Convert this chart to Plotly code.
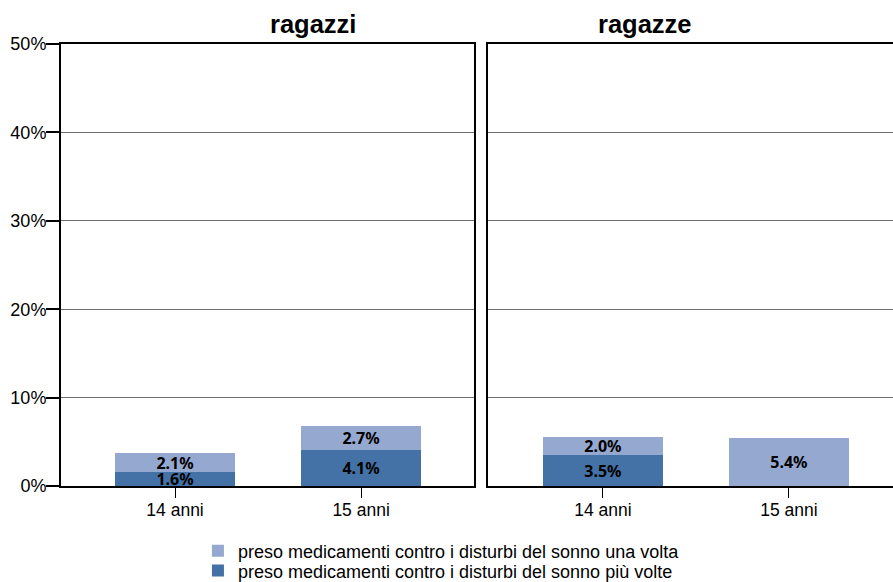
import plotly.graph_objects as go

categories = ["14 anni", "15 anni"]
panels = ["ragazzi", "ragazze"]
una_volta = {"ragazzi": [2.1, 2.7], "ragazze": [2.0, 5.4]}
piu_volte = {"ragazzi": [1.6, 4.1], "ragazze": [3.5, 0.0]}
y_ticks = [0, 10, 20, 30, 40, 50]
y_tick_labels = ["0%", "10%", "20%", "30%", "40%", "50%"]

name_una = "preso medicamenti contro i disturbi del sonno una volta"
name_piu = "preso medicamenti contro i disturbi del sonno più volte"
c_light = "#95A9D0"
c_dark = "#4472A6"

fig = go.Figure()
lab_font = dict(family="Noto Sans", size=16, color="black")

def fmt(vals):
    return [f"<b>{v:.1f}%</b>" if v > 0 else "" for v in vals]

for i, p in enumerate(panels):
    xa = "x" if i == 0 else "x2"
    ya = "y" if i == 0 else "y2"
    fig.add_trace(go.Bar(x=categories, y=piu_volte[p], name=name_piu, marker_color=c_dark,
                         marker_line_width=0, width=0.645, text=fmt(piu_volte[p]),
                         textposition="inside", insidetextanchor="middle", textfont=lab_font,
                         textangle=0, constraintext="none", cliponaxis=False,
                         xaxis=xa, yaxis=ya, showlegend=(i == 0), legend="legend2"))
    fig.add_trace(go.Bar(x=categories, y=una_volta[p], name=name_una, marker_color=c_light,
                         marker_line_width=0, width=0.645, text=fmt(una_volta[p]),
                         textposition="inside", insidetextanchor="middle", textfont=lab_font,
                         textangle=0, constraintext="none", cliponaxis=False,
                         xaxis=xa, yaxis=ya, showlegend=(i == 0), legend="legend"))

font_family = "Liberation Sans, Arial"
ytick_font = dict(family=font_family, size=18, color="black")
xtick_font = dict(family=font_family, size=17.5, color="black")
leg_font = dict(family=font_family, size=18, color="black")
leg_common = dict(x=0.1646, xanchor="left", yanchor="middle", font=leg_font,
                  itemwidth=30, bgcolor="rgba(0,0,0,0)", borderwidth=0)
fig.update_layout(
    width=893, height=582,
    margin=dict(l=61, r=0, t=44, b=96, autoexpand=False),
    paper_bgcolor="white", plot_bgcolor="white",
    barmode="stack",
    uniformtext=dict(minsize=16, mode="show"),
    showlegend=True,
    legend=dict(y=-0.147, **leg_common),
    legend2=dict(y=-0.192, **leg_common),
    xaxis=dict(domain=[0, 0.4964], type="category", range=[-0.613, 1.607],
               showline=True, linecolor="black", linewidth=2, mirror=True,
               ticks="outside", ticklen=10, tickcolor="black", tickwidth=1,
               tickfont=xtick_font, showgrid=False, automargin=False, ticklabelstandoff=-3),
    xaxis2=dict(domain=[0.5132, 1], type="category", range=[-0.618, 1.56],
                showline=True, linecolor="black", linewidth=2, mirror=True,
                ticks="outside", ticklen=10, tickcolor="black", tickwidth=1,
                tickfont=xtick_font, showgrid=False, automargin=False, ticklabelstandoff=-3),
    yaxis=dict(range=[0, 50], tickvals=y_ticks, ticktext=y_tick_labels,
               showline=True, linecolor="black", linewidth=2, mirror=True,
               ticks="outside", ticklen=13, tickcolor="black", tickwidth=2,
               tickfont=ytick_font, showgrid=True, gridcolor="#6e6e6e", gridwidth=1,
               zeroline=False, automargin=False, ticklabelstandoff=-4),
    yaxis2=dict(range=[0, 50], tickvals=y_ticks, showticklabels=False, anchor="x2",
                showline=True, linecolor="black", linewidth=2,
                ticks="", showgrid=True, gridcolor="#6e6e6e", gridwidth=1, zeroline=False,
                automargin=False),
    annotations=[
        dict(text="<b>ragazzi</b>", x=0.2482, xref="paper", y=1.046, yref="paper",
             yanchor="middle", showarrow=False,
             font=dict(family=font_family, size=25.5, color="black")),
        dict(text="<b>ragazze</b>", x=0.5132 + (0.4964 / 2), xref="paper", y=1.046, yref="paper",
             yanchor="middle", showarrow=False,
             font=dict(family=font_family, size=25.5, color="black")),
    ],
)

fig.write_html("out.html", config={"displayModeBar": False},
               post_script="document.body.style.margin='0px';")
